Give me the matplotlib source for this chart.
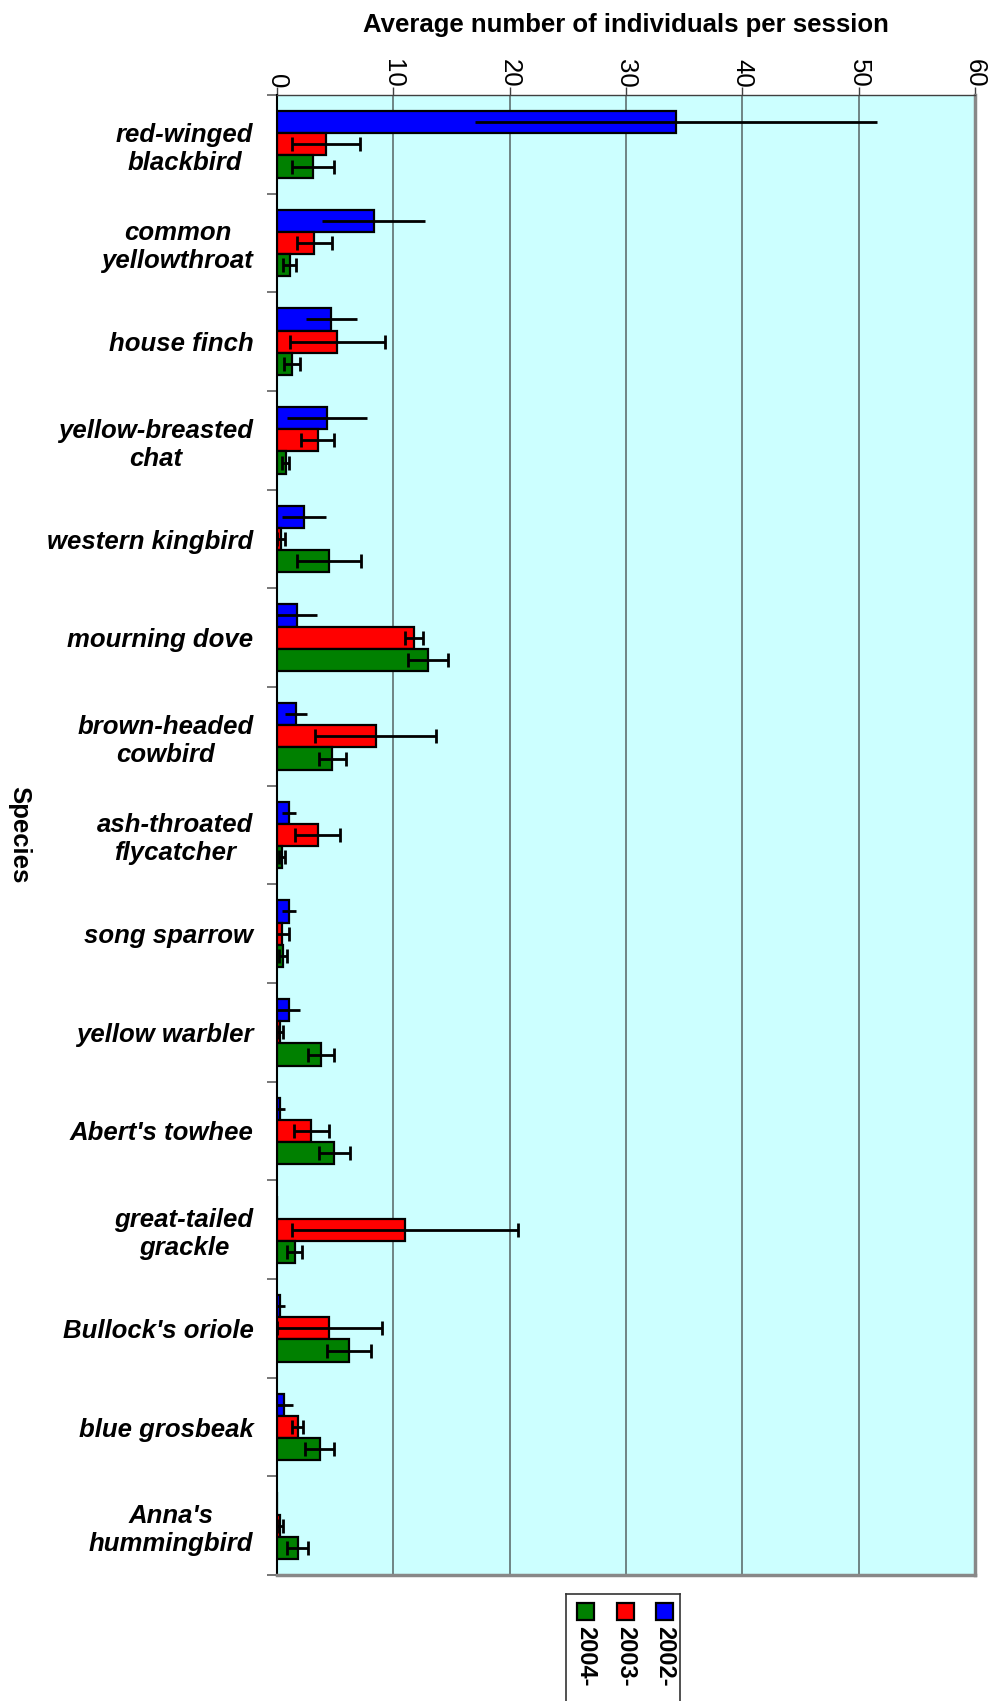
import matplotlib.pyplot as plt
import numpy
from matplotlib.patches import Rectangle

plt.rcParams['font.family'] = ['Liberation Sans', 'DejaVu Sans']

species = ["red-winged\nblackbird", "common\nyellowthroat", "house finch",
           "yellow-breasted\nchat", "western kingbird", "mourning dove",
           "brown-headed\ncowbird", "ash-throated\nflycatcher", "song sparrow",
           "yellow warbler", "Abert's towhee", "great-tailed\ngrackle",
           "Bullock's oriole", "blue grosbeak", "Anna's\nhummingbird"]
years = ["2002-", "2003-", "2004-"]

avg2002 = [34.3, 8.3, 4.65, 4.3, 2.3, 1.7, 1.66, 1.0, 1.0, 1.0, 0.28, 0.0, 0.28, 0.63, 0.0]
err2002 = [17.3, 4.4, 2.2, 3.4, 1.9, 1.7, 0.94, 0.6, 0.6, 1.0, 0.37, 0.0, 0.37, 0.74, 0.0]
avg2003 = [4.2, 3.2, 5.2, 3.5, 0.34, 11.8, 8.5, 3.5, 0.43, 0.23, 2.96, 11.0, 4.5, 1.77, 0.28]
err2003 = [2.9, 1.5, 4.05, 1.43, 0.37, 0.78, 5.2, 1.93, 0.62, 0.25, 1.5, 9.75, 4.5, 0.5, 0.25]
avg2004 = [3.1, 1.1, 1.3, 0.74, 4.5, 13.0, 4.77, 0.43, 0.51, 3.77, 4.94, 1.52, 6.2, 3.66, 1.77]
err2004 = [1.8, 0.56, 0.67, 0.31, 2.75, 1.73, 1.2, 0.3, 0.35, 1.14, 1.35, 0.67, 1.9, 1.25, 0.9]

colors = ["#0000ff", "#ff0000", "#008000"]
W, H = 992, 1701
fig = plt.figure(figsize=(W / 100, H / 100), dpi=100)
ax = fig.add_axes([277 / W, 1 - 1575 / H, (975 - 277) / W, (1575 - 95) / H])
ax.set_facecolor("#ccffff")

y = numpy.arange(len(species))
h = 0.225
series = [(avg2002, err2002, 0), (avg2003, err2003, 5), (avg2004, err2004, 5)]
for k, (vals, errs, cap) in enumerate(series):
    pos = y + (k - 1) * h
    ax.barh(pos, vals, height=h, color=colors[k], edgecolor="black", linewidth=1.6, zorder=3)
    ax.errorbar(vals, pos, xerr=errs, fmt="none", ecolor="black", elinewidth=2.0,
                capsize=cap, capthick=2.0, zorder=4)

ax.set_xlim(0, 60)
ax.set_ylim(len(species) - 0.5, -0.5)
ax.xaxis.tick_top()
ax.xaxis.set_label_position("top")
ax.set_xticks(range(0, 61, 10))
ax.set_xticklabels([str(v) for v in range(0, 61, 10)], rotation=-90, fontsize=18.5)
ax.tick_params(axis="x", direction="out", length=6, width=1, color="#404040", pad=-1)
ax.grid(axis="x", color="#5f6f6f", linewidth=1.2, zorder=1)
ax.set_xlabel("Average number of individuals per session", fontsize=18.5,
              fontweight="bold", labelpad=20)

ax.set_yticks(y)
ax.set_yticklabels(species, fontsize=18.5, fontweight="bold", fontstyle="italic",
                   multialignment="center")
ax.tick_params(axis="y", which="major", length=0, pad=17)
ax.set_yticks(numpy.arange(-0.5, len(species), 1), minor=True)
ax.tick_params(axis="y", which="minor", length=7, width=1.2, color="#606060", direction="out")
ax.set_ylabel("Species", fontsize=18.5, fontweight="bold", rotation=-90)
ax.yaxis.set_label_coords(-0.387, 0.5)

ax.spines["left"].set_color("black")
ax.spines["left"].set_linewidth(1.5)
ax.spines["top"].set_color("#404040")
ax.spines["top"].set_linewidth(1.0)
ax.spines["bottom"].set_color("#888888")
ax.spines["bottom"].set_linewidth(2.5)
ax.spines["right"].set_color("#888888")
ax.spines["right"].set_linewidth(2.5)

# legend drawn by hand, rotated like the original
lg = fig.add_axes([566 / W, 0, (680 - 566) / W, (1701 - 1594) / H])
lg.set_xlim(566, 680)
lg.set_ylim(1701, 1594)
lg.set_xticks([])
lg.set_yticks([])
lg.set_facecolor("white")
for s in ["left", "right", "top"]:
    lg.spines[s].set_color("#333333")
    lg.spines[s].set_linewidth(1.2)
lg.spines["bottom"].set_visible(False)
xs = [664.5, 625.5, 585.5]
for k in range(3):
    lg.add_patch(Rectangle((xs[k] - 8.5, 1603), 17, 17, facecolor=colors[k],
                           edgecolor="black", linewidth=1.6))
    lg.text(xs[k], 1626, years[k], rotation=-90, ha="center", va="top",
            fontsize=17, fontweight="bold")

fig.savefig("out.png", dpi=100)
